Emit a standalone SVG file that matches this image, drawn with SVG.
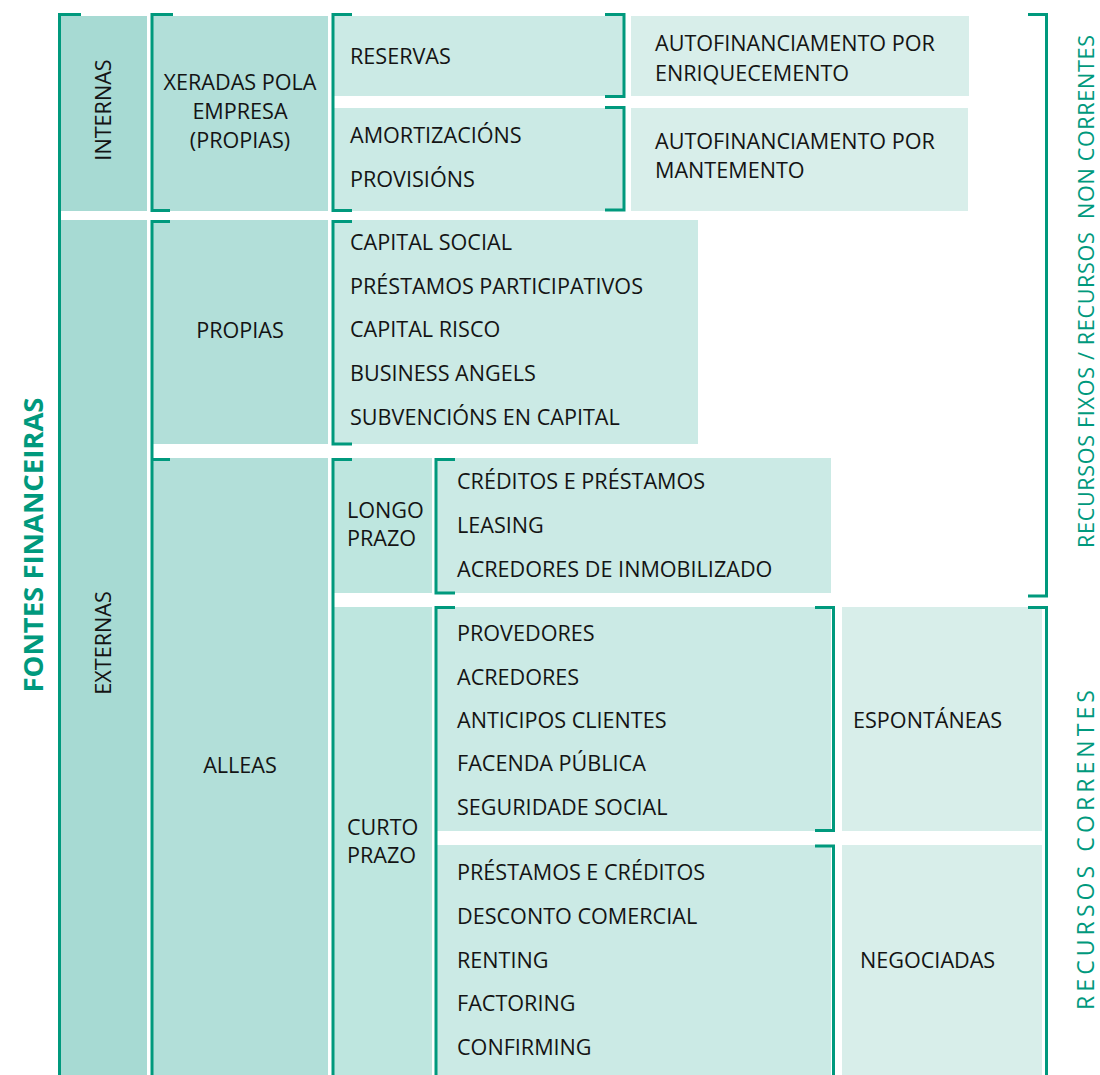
<svg xmlns="http://www.w3.org/2000/svg" width="1100" height="1075" viewBox="0 0 1100 1075">
  <style>
    .c1 { fill: #a7dad3; }
    .c2 { fill: #b2dfd9; }
    .c3 { fill: #bee6df; }
    .c4 { fill: #cbeae5; }
    .c5 { fill: #d8eeea; }
    .br { fill: none; stroke: #00997d; stroke-width: 3; }
    .t { font-family: "Open Sans", "Liberation Sans", sans-serif; font-size: 21.6px; fill: #141414; }
    .mid { text-anchor: middle; }
    .side { font-family: "Open Sans", "Liberation Sans", sans-serif; font-size: 21.6px; fill: #00997d; text-anchor: middle; white-space: pre; }
    .title { font-family: "Open Sans", "Liberation Sans", sans-serif; font-size: 26px; font-weight: bold; fill: #00997d; text-anchor: middle; }
  </style>

  <rect width="1100" height="1075" fill="#ffffff"/>

  <!-- title -->
  <g id="fontes-financeiras">
    <text class="title" transform="translate(43,545) rotate(-90)" textLength="295" lengthAdjust="spacingAndGlyphs">FONTES FINANCEIRAS</text>
  </g>

  <!-- first level -->
  <g id="internas">
    <rect class="c1" x="61" y="16" width="86" height="195"/>
    <text class="t mid" transform="translate(111,110) rotate(-90)">INTERNAS</text>
  </g>
  <g id="externas">
    <rect class="c1" x="61" y="220" width="86" height="855"/>
    <text class="t mid" transform="translate(111,643) rotate(-90)">EXTERNAS</text>
  </g>

  <!-- second level -->
  <g id="xeradas">
    <rect class="c2" x="153" y="16" width="175" height="195"/>
    <text class="t mid" x="240" y="90">XERADAS POLA</text>
    <text class="t mid" x="240" y="119">EMPRESA</text>
    <text class="t mid" x="240" y="148">(PROPIAS)</text>
  </g>
  <g id="propias">
    <rect class="c2" x="153" y="220" width="175" height="224"/>
    <text class="t mid" x="240" y="338">PROPIAS</text>
  </g>
  <g id="alleas">
    <rect class="c2" x="153" y="458" width="175" height="617"/>
    <text class="t mid" x="240" y="773">ALLEAS</text>
  </g>

  <!-- internal resources -->
  <g id="reservas">
    <rect class="c4" x="334" y="16" width="289" height="80"/>
    <text class="t" x="350" y="64">RESERVAS</text>
  </g>
  <g id="amortizacions">
    <rect class="c4" x="334" y="108" width="289" height="103"/>
    <text class="t" x="350" y="143">AMORTIZACIÓNS</text>
    <text class="t" x="350" y="187">PROVISIÓNS</text>
  </g>
  <g id="autofin-enriquecemento">
    <rect class="c5" x="631" y="16" width="338" height="80"/>
    <text class="t" x="655" y="51">AUTOFINANCIAMENTO POR</text>
    <text class="t" x="655" y="81">ENRIQUECEMENTO</text>
  </g>
  <g id="autofin-mantemento">
    <rect class="c5" x="631" y="108" width="337" height="103"/>
    <text class="t" x="655" y="149">AUTOFINANCIAMENTO POR</text>
    <text class="t" x="655" y="178">MANTEMENTO</text>
  </g>

  <!-- external own resources -->
  <g id="propias-lista">
    <rect class="c4" x="334" y="220" width="364" height="224"/>
    <text class="t" x="350" y="250">CAPITAL SOCIAL</text>
    <text class="t" x="350" y="294">PRÉSTAMOS PARTICIPATIVOS</text>
    <text class="t" x="350" y="337">CAPITAL RISCO</text>
    <text class="t" x="350" y="381">BUSINESS ANGELS</text>
    <text class="t" x="350" y="425">SUBVENCIÓNS EN CAPITAL</text>
  </g>

  <!-- external borrowed resources -->
  <g id="longo-prazo">
    <rect class="c3" x="334" y="458" width="98" height="135"/>
    <text class="t" x="347" y="518">LONGO</text>
    <text class="t" x="347" y="546">PRAZO</text>
  </g>
  <g id="longo-lista">
    <rect class="c4" x="437" y="458" width="394" height="135"/>
    <text class="t" x="457" y="489">CRÉDITOS E PRÉSTAMOS</text>
    <text class="t" x="457" y="533">LEASING</text>
    <text class="t" x="457" y="577">ACREDORES DE INMOBILIZADO</text>
  </g>
  <g id="curto-prazo">
    <rect class="c3" x="334" y="607" width="98" height="468"/>
    <text class="t" x="347" y="835">CURTO</text>
    <text class="t" x="347" y="863">PRAZO</text>
  </g>
  <g id="espontaneas-lista">
    <rect class="c4" x="437" y="607" width="394" height="224"/>
    <text class="t" x="457" y="641">PROVEDORES</text>
    <text class="t" x="457" y="685">ACREDORES</text>
    <text class="t" x="457" y="728">ANTICIPOS CLIENTES</text>
    <text class="t" x="457" y="771">FACENDA PÚBLICA</text>
    <text class="t" x="457" y="815">SEGURIDADE SOCIAL</text>
  </g>
  <g id="negociadas-lista">
    <rect class="c4" x="437" y="845" width="394" height="230"/>
    <text class="t" x="457" y="880">PRÉSTAMOS E CRÉDITOS</text>
    <text class="t" x="457" y="924">DESCONTO COMERCIAL</text>
    <text class="t" x="457" y="968">RENTING</text>
    <text class="t" x="457" y="1011">FACTORING</text>
    <text class="t" x="457" y="1055">CONFIRMING</text>
  </g>
  <g id="espontaneas">
    <rect class="c5" x="842" y="607" width="200" height="224"/>
    <text class="t" x="853" y="728">ESPONTÁNEAS</text>
  </g>
  <g id="negociadas">
    <rect class="c5" x="842" y="845" width="200" height="230"/>
    <text class="t" x="860" y="968">NEGOCIADAS</text>
  </g>

  <!-- side labels -->
  <g id="recursos-non-correntes">
    <text class="side" transform="translate(1094,291.5) rotate(-90)" xml:space="preserve" textLength="513" lengthAdjust="spacing">RECURSOS FIXOS / RECURSOS  NON CORRENTES</text>
  </g>
  <g id="recursos-correntes">
    <text class="side" transform="translate(1094,850) rotate(-90)" style="font-size:23px" textLength="320" lengthAdjust="spacing">RECURSOS CORRENTES</text>
  </g>

  <!-- grouping brackets -->
  <g id="brackets" class="br">
    <path d="M81,14.5 H59.5 V1075"/>
    <path d="M173,14.5 H152 V210.5 H170"/>
    <path d="M170,221.5 H152 V1075"/>
    <path d="M170,459.5 H152"/>
    <path d="M352,14.5 H333 V210.5 H352"/>
    <path d="M352,221.5 H333 V444 H352"/>
    <path d="M352,459.5 H333 V1075"/>
    <path d="M455,459.5 H436 V593 H455"/>
    <path d="M455,607.5 H436 V1075"/>
    <path d="M605,14.5 H624 V96.5 H605"/>
    <path d="M605,107.5 H624 V210 H605"/>
    <path d="M815,607.5 H833.5 V830.5 H815"/>
    <path d="M815,846 H833.5 V1075"/>
    <path d="M1028,14.5 H1046.5 V596 H1028"/>
    <path d="M1028,607.5 H1046.5 V1075"/>
  </g>
</svg>
